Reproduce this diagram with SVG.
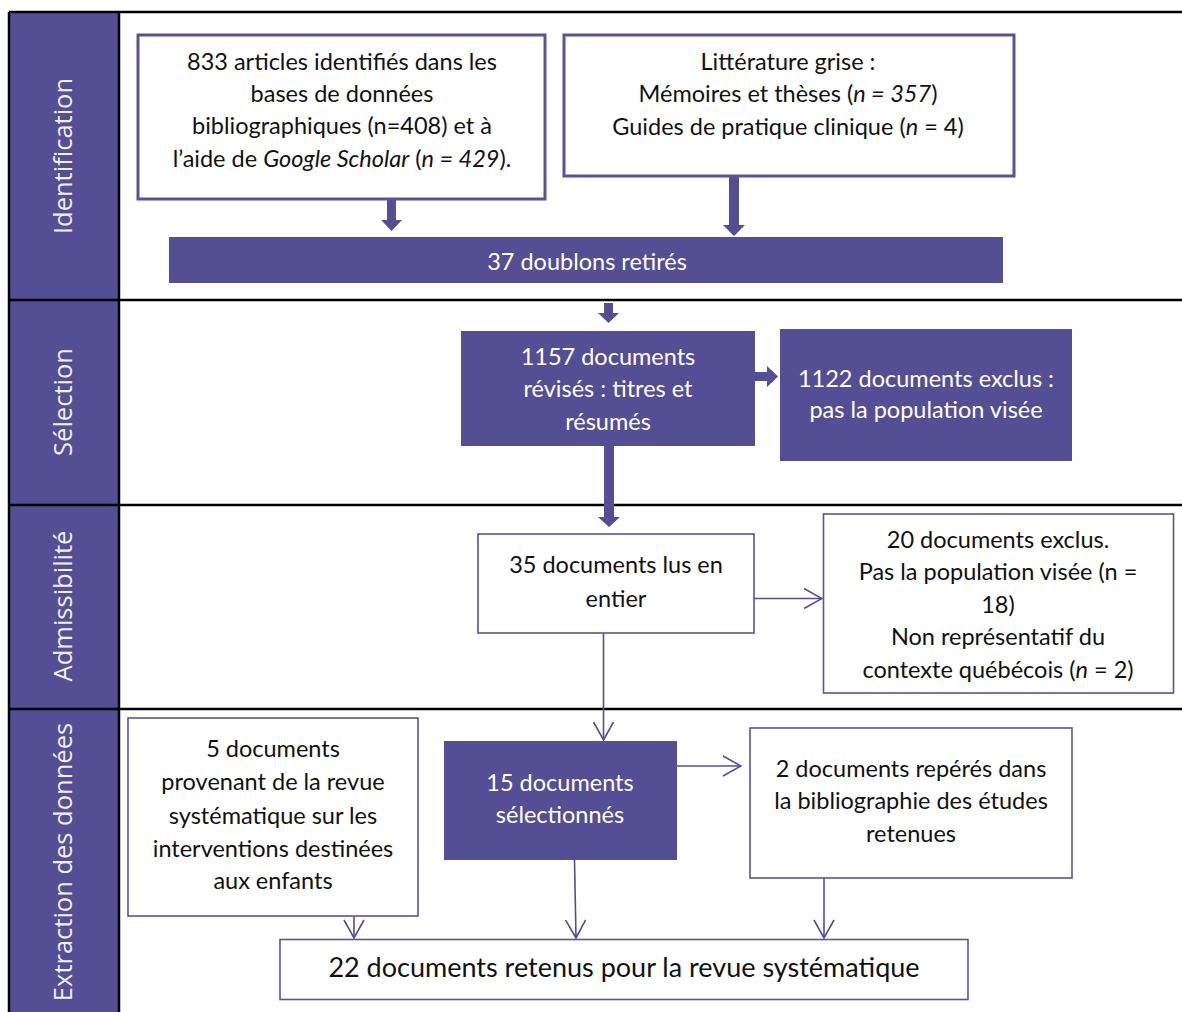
<svg xmlns="http://www.w3.org/2000/svg" width="1182" height="1012" viewBox="0 0 1182 1012">
<defs>
<style>
.t{font-family:Lato,"Open Sans",sans-serif;font-size:23.5px;fill:#111;text-anchor:middle}
.w{fill:#fff}
.lab{font-family:"Open Sans","DejaVu Sans",sans-serif;font-size:25.5px;fill:#f2f0f8;text-anchor:middle}
.bx{fill:#fff;stroke:#5a539a;stroke-width:1.6}
.bxt{fill:#fff;stroke:#5a539a;stroke-width:3}
.fl{fill:#544e94}
.ln{stroke:#000;stroke-width:2.5}
.th{fill:#544e94}
.tn{fill:none;stroke:#544e94;stroke-width:1.6}
</style>
<marker id="v" viewBox="0 0 20 22" refX="19" refY="11" markerWidth="20" markerHeight="22" markerUnits="userSpaceOnUse" orient="auto">
<path d="M1,1 L19,11 L1,21" fill="none" stroke="#544e94" stroke-width="1.6"/>
</marker>
</defs>
<rect width="1182" height="1012" fill="#fff"/>
<g id="frame">
<rect x="9" y="12" width="110" height="1000" class="fl"/>
<line x1="9" y1="12" x2="1182" y2="12" class="ln"/>
<line x1="9" y1="12" x2="9" y2="1012" class="ln"/>
<line x1="119" y1="12" x2="119" y2="1012" class="ln"/>
<line x1="9" y1="300" x2="1182" y2="300" class="ln"/>
<line x1="9" y1="505" x2="1182" y2="505" class="ln"/>
<line x1="9" y1="709" x2="1182" y2="709" class="ln"/>
<text class="lab" transform="translate(72,156) rotate(-90)">Identification</text>
<text class="lab" transform="translate(72,402) rotate(-90)">Sélection</text>
<text class="lab" transform="translate(72,606) rotate(-90)">Admissibilité</text>
<text class="lab" transform="translate(72,862) rotate(-90)">Extraction des données</text>
</g>
<g id="connectors">
<path class="th" d="M387,199 H396 V220 H402 L391.5,231 L381,220 H387 Z"/>
<path class="th" d="M729,176 H739 V225 H745 L734,236 L723,225 H729 Z"/>
<path class="th" d="M604,303 H613 V313 H619 L608.5,323 L598,313 H604 Z"/>
<path class="th" d="M754,372 H767 V366 L778,376.5 L767,387 V381 H754 Z"/>
<path class="th" d="M604,446 H614 V517 H620 L609,527 L598,517 H604 Z"/>
<line x1="754" y1="598.5" x2="822" y2="598.5" class="tn" marker-end="url(#v)"/>
<line x1="603.5" y1="633" x2="603.5" y2="740" class="tn" marker-end="url(#v)"/>
<line x1="677" y1="766" x2="741" y2="766" class="tn" marker-end="url(#v)"/>
<line x1="354" y1="916" x2="354" y2="938" class="tn" marker-end="url(#v)"/>
<line x1="574.5" y1="860" x2="576" y2="938" class="tn" marker-end="url(#v)"/>
<line x1="824" y1="878" x2="824" y2="938" class="tn" marker-end="url(#v)"/>
</g>
<g id="n1">
<rect x="138" y="35" width="407" height="164" class="bxt"/>
<text class="t" x="342" y="70">833 articles identifiés dans les</text>
<text class="t" x="342" y="102">bases de données</text>
<text class="t" x="342" y="134">bibliographiques (n=408) et à</text>
<text class="t" x="342" y="167">l’aide de <tspan font-style="italic">Google Scholar</tspan> (<tspan font-style="italic">n = 429</tspan>).</text>
</g>
<g id="n2">
<rect x="564" y="35" width="450" height="141" class="bxt"/>
<text class="t" x="788" y="70">Littérature grise :</text>
<text class="t" x="788" y="102">Mémoires et thèses (<tspan font-style="italic">n = 357</tspan>)</text>
<text class="t" x="788" y="135">Guides de pratique clinique (<tspan font-style="italic">n</tspan> = 4)</text>
</g>
<g id="n3">
<rect x="169" y="237" width="834" height="46" class="fl"/>
<text class="t w" x="587" y="270">37 doublons retirés</text>
</g>
<g id="n4">
<rect x="461" y="331" width="294" height="115" class="fl"/>
<text class="t w" x="608" y="365">1157 documents</text>
<text class="t w" x="608" y="397">révisés : titres et</text>
<text class="t w" x="608" y="430">résumés</text>
</g>
<g id="n5">
<rect x="780" y="329" width="292" height="132" class="fl"/>
<text class="t w" x="926" y="387">1122 documents exclus :</text>
<text class="t w" x="926" y="418">pas la population visée</text>
</g>
<g id="n6">
<rect x="478" y="534" width="276" height="99" class="bx"/>
<text class="t" x="616" y="573">35 documents lus en</text>
<text class="t" x="616" y="607">entier</text>
</g>
<g id="n7">
<rect x="823.5" y="514" width="350" height="179" class="bx"/>
<text class="t" x="998" y="548">20 documents exclus.</text>
<text class="t" x="998" y="580">Pas la population visée (n =</text>
<text class="t" x="998" y="613">18)</text>
<text class="t" x="998" y="645">Non représentatif du</text>
<text class="t" x="998" y="678">contexte québécois (<tspan font-style="italic">n</tspan> = 2)</text>
</g>
<g id="n8">
<rect x="128" y="718" width="290" height="198" class="bx"/>
<text class="t" x="273" y="757">5 documents</text>
<text class="t" x="273" y="790">provenant de la revue</text>
<text class="t" x="273" y="824">systématique sur les</text>
<text class="t" x="273" y="857">interventions destinées</text>
<text class="t" x="273" y="889">aux enfants</text>
</g>
<g id="n9">
<rect x="444" y="741" width="233" height="119" class="fl"/>
<text class="t w" x="560" y="791">15 documents</text>
<text class="t w" x="560" y="823">sélectionnés</text>
</g>
<g id="n10">
<rect x="750" y="728" width="322" height="150" class="bx"/>
<text class="t" x="911" y="777">2 documents repérés dans</text>
<text class="t" x="911" y="809">la bibliographie des études</text>
<text class="t" x="911" y="842">retenues</text>
</g>
<g id="n11">
<rect x="280" y="939.5" width="688" height="60" class="bx"/>
<text class="t" x="624" y="977" style="font-size:27px">22 documents retenus pour la revue systématique</text>
</g>
</svg>
